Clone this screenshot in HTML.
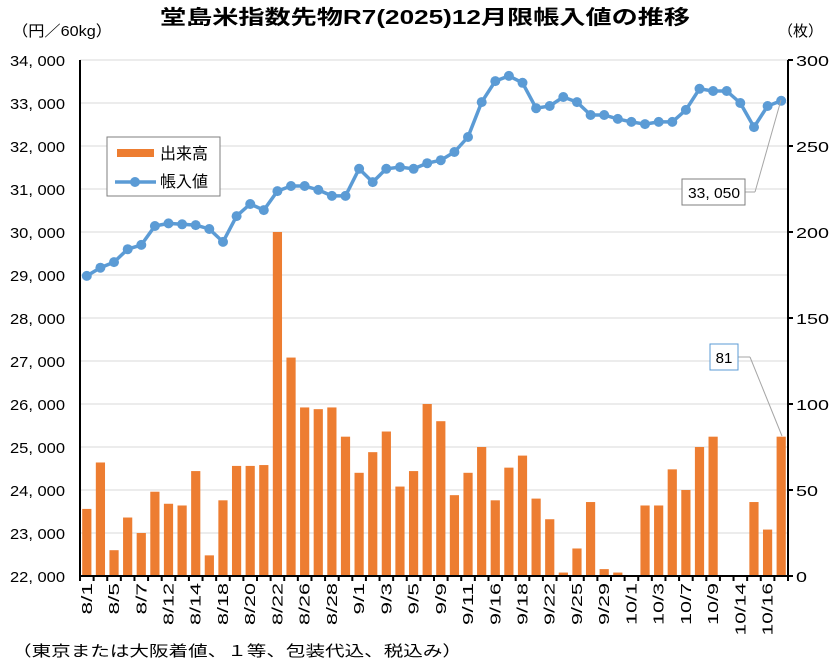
<!DOCTYPE html>
<html><head><meta charset="utf-8">
<style>
html,body{margin:0;padding:0;background:#fff;}
svg{display:block;font-family:"Liberation Sans","Noto Sans CJK JP",sans-serif;}
</style></head>
<body>
<svg id="c" width="835" height="665" viewBox="0 0 835 665" xmlns="http://www.w3.org/2000/svg">
<rect width="835" height="665" fill="#fff"/>
<text x="160" y="24" font-size="20" font-weight="bold" fill="#000" textLength="530" lengthAdjust="spacingAndGlyphs">堂島米指数先物R7(2025)12月限帳入値の推移</text>
<text x="12" y="36" font-size="15" fill="#000" textLength="100" lengthAdjust="spacingAndGlyphs">（円／60kg）</text>
<text x="778" y="36" font-size="15" fill="#000">（枚）</text>
<text x="12" y="656" font-size="15" fill="#000" textLength="450" lengthAdjust="spacingAndGlyphs">（東京または大阪着値、１等、包装代込、税込み）</text>
<g id="g"></g>
</svg>
<script>
var g=document.getElementById('g');var ns='http://www.w3.org/2000/svg';
function el(t,a,txt){var e=document.createElementNS(ns,t);for(var k in a)e.setAttribute(k,a[k]);if(txt!==undefined)e.textContent=txt;g.appendChild(e);return e;}
var L=80,R=788,T=60,B=576,N=52,W=(R-L)/N;
for(var i=0;i<=12;i++){var y=T+i*43;
 if(i<12)el('line',{x1:L,x2:R,y1:y,y2:y,stroke:'#d9d9d9','stroke-width':1});
 el('text',{x:10,y:y+6,'font-size':15,textLength:55,lengthAdjust:'spacingAndGlyphs'},(34-i)+', 000');}
for(var j=0;j<=6;j++){var y=T+j*86;el('line',{x1:R,x2:R+5,y1:y,y2:y,stroke:'#000','stroke-width':2});
 var s=String(300-j*50);el('text',{x:796,y:y+6,'font-size':15,textLength:s.length*11,lengthAdjust:'spacingAndGlyphs'},s);}
var bars=[39,66,15,34,25,49,42,41,61,12,44,64,64,64.5,200,127,98,97,98,81,60,72,84,52,61,100,90,47,60,75,44,63,70,45,33,2,16,43,4,2,0,41,41,62,50,75,81,0,0,43,27,81];
var line=[28980,29170,29300,29600,29700,30140,30200,30180,30160,30070,29770,30370,30650,30510,30950,31070,31070,30980,30840,30840,31470,31160,31470,31510,31470,31600,31670,31860,32210,33020,33510,33630,33470,32880,32930,33140,33020,32720,32720,32630,32560,32510,32560,32560,32840,33330,33280,33280,33000,32440,32930,33050];
var labs=['8/1','8/5','8/7','8/12','8/14','8/18','8/20','8/22','8/26','8/28','9/1','9/3','9/5','9/9','9/11','9/16','9/18','9/22','9/25','9/29','10/1','10/3','10/7','10/9','10/14','10/16'];
for(var i=0;i<N;i++){var cx=L+(i+0.5)*W,h=bars[i]*1.72;
 if(h>0)el('rect',{x:cx-4.6,y:B-h,width:9.2,height:h,fill:'#ed7d31'});}
el('line',{x1:L,x2:L,y1:T,y2:B+1,stroke:'#000','stroke-width':2});
el('line',{x1:R,x2:R,y1:T,y2:B+1,stroke:'#000','stroke-width':2});
el('line',{x1:L-1,x2:R+1,y1:B,y2:B,stroke:'#000','stroke-width':2});
for(var i=0;i<=N;i++){var x=L+i*W;el('line',{x1:x,x2:x,y1:B,y2:B+5,stroke:'#000','stroke-width':2});}
for(var k=0;k<labs.length;k++){var cx=L+(2*k+0.5)*W+5;var s=labs[k];
 el('text',{x:0,y:0,'font-size':15,'text-anchor':'end',textLength:s.length*10.5,lengthAdjust:'spacingAndGlyphs',transform:'translate('+cx+',583) rotate(-90)'},s);}
var pts=[];for(var i=0;i<N;i++){pts.push((L+(i+0.5)*W).toFixed(1)+','+(T+(34000-line[i])*0.043).toFixed(1));}
el('polyline',{points:pts.join(' '),fill:'none',stroke:'#5b9bd5','stroke-width':3.5,'stroke-linejoin':'round'});
pts.forEach(function(p){var a=p.split(',');el('circle',{cx:a[0],cy:a[1],r:5,fill:'#5b9bd5'});});
el('line',{x1:745,y1:192,x2:755,y2:192,stroke:'#a6a6a6'});el('line',{x1:755,y1:192,x2:781,y2:100,stroke:'#a6a6a6'});
el('rect',{x:682,y:179,width:63,height:26,fill:'#fff',stroke:'#7f7f7f'});
el('text',{x:688,y:198,'font-size':15,textLength:52,lengthAdjust:'spacingAndGlyphs'},'33, 050');
el('line',{x1:738,y1:357,x2:750,y2:357,stroke:'#a6a6a6'});el('line',{x1:750,y1:357,x2:782,y2:436,stroke:'#a6a6a6'});
el('rect',{x:710,y:344,width:28,height:26,fill:'#fff',stroke:'#5b9bd5'});
el('text',{x:724,y:363,'text-anchor':'middle','font-size':15},'81');
el('rect',{x:107,y:137,width:113,height:59,fill:'#fff',stroke:'#7f7f7f'});
el('rect',{x:117,y:149,width:37,height:8,fill:'#ed7d31'});
el('text',{x:160,y:159,'font-size':16},'出来高');
el('line',{x1:115,x2:156,y1:182,y2:182,stroke:'#5b9bd5','stroke-width':3.5});
el('circle',{cx:135,cy:182,r:5,fill:'#5b9bd5'});
el('text',{x:160,y:187,'font-size':16},'帳入値');
</script>
</body></html>
